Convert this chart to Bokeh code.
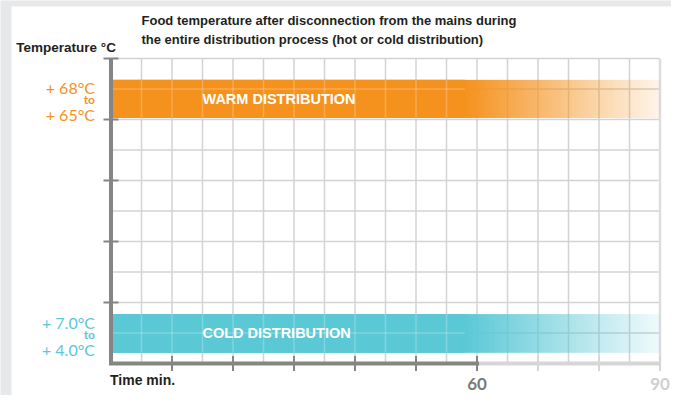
import numpy as np
from bokeh.plotting import figure
from bokeh.models import Range1d, ColumnDataSource
from bokeh.core.properties import value
from bokeh.embed import file_html
from bokeh.resources import INLINE

# ---------------- data ----------------
title_lines = ["Food temperature after disconnection from the mains during",
               "the entire distribution process (hot or cold distribution)"]
y_axis_title = "Temperature °C"
x_axis_title = "Time min."

x_max = 90                                  # minutes shown
x_grid = [5, 10, 15, 20, 25, 30, 35, 40, 45, 50, 55, 60, 65, 70, 75, 80, 85]
y_grid = [1, 2, 3, 4, 5, 6, 7, 8, 9, 10]     # schematic rows
x_ticks_dark = [10, 20, 30, 40, 50, 60]
x_ticks_light = [70, 80, 90]
x_tick_values = [60, 90]
x_tick_labels = ["60", "90"]
y_ticks = [2, 4, 6, 8, 10]
powered_until = 60                            # end of solid axis part

band_names = ["WARM DISTRIBUTION", "COLD DISTRIBUTION"]
band_bottom = [8.05, 0.35]
band_top = [9.3, 1.62]
band_fade_start = [58, 58]
band_label_x = [15, 15]
band_upper = ["+ 68°C", "+ 7.0°C"]
band_lower = ["+ 65°C", "+ 4.0°C"]
band_colors = ["#F5921E", "#5BC8D6"]

# ---------------- style ----------------
GRID = "#D3D3D3"
AXIS = "#858585"
AXIS_LIGHT = "#D6D6D6"
TXT = "#231F20"
PAGE_BG = "#E7E8EA"
SANS = value("Liberation Sans")

W, H = 671, 395
x0_px, x90_px = 110.5, 659.5
y0_px, y10_px = 363, 58          # from top
sx = (x90_px - x0_px) / x_max
sy = (y0_px - y10_px) / 10.0
xs, xe = -x0_px / sx, x_max + (W - x90_px) / sx
ys, ye = -(H - y0_px) / sy, 10 + y10_px / sy

p = figure(width=W, height=H, output_backend="svg", toolbar_location=None,
           x_range=Range1d(xs, xe), y_range=Range1d(ys, ye),
           x_axis_type=None, y_axis_type=None, min_border=0)
p.outline_line_color = None
p.background_fill_color = PAGE_BG
p.border_fill_color = PAGE_BG
p.title.visible = False

# white card behind the chart
p.quad(left=[(11 - x0_px) / sx], right=[xe], bottom=[ys], top=[10 + (y10_px - 6) / sy],
       fill_color="white", line_color=None)

# grid
p.segment(x0=x_grid, y0=[0] * len(x_grid), x1=x_grid, y1=[10] * len(x_grid),
          line_color=GRID, line_width=1.5)
p.segment(x0=[0] * len(y_grid), y0=y_grid, x1=[x_max] * len(y_grid), y1=y_grid,
          line_color=GRID, line_width=1.5)
p.segment(x0=[x_max], y0=[0], x1=[x_max], y1=[10], line_color="#DDDDDD", line_width=2.5)

# bands: solid bar + fading image over the whole bar
for i in range(len(band_names)):
    col = band_colors[i]
    fs = band_fade_start[i]
    p.quad(left=[0], right=[fs], bottom=[band_bottom[i]], top=[band_top[i]],
           fill_color=col, line_color=None)
    n = 900
    xc = (np.arange(n) + 0.5) / n * x_max
    alpha = np.where(xc < fs, 1.0, 1.0 - 0.91 * (xc - fs) / (x_max - fs))
    r, g, b = int(col[1:3], 16), int(col[3:5], 16), int(col[5:7], 16)
    img = np.empty((1, n), dtype=np.uint32)
    view = img.view(dtype=np.uint8).reshape((1, n, 4))
    view[0, :, 0] = r
    view[0, :, 1] = g
    view[0, :, 2] = b
    view[0, :, 3] = np.round(alpha * 255).astype(np.uint8)
    p.image_rgba(image=[img], x=0, y=band_bottom[i], dw=x_max,
                 dh=band_top[i] - band_bottom[i])
    # lighter grid lines through the solid part
    vx = [g_ for g_ in x_grid if g_ < fs]
    p.segment(x0=vx, y0=[band_bottom[i]] * len(vx), x1=vx, y1=[band_top[i]] * len(vx),
              line_color="white", line_alpha=0.22, line_width=1.5)
    hy = [g_ for g_ in y_grid if band_bottom[i] < g_ < band_top[i]]
    p.segment(x0=[0] * len(hy), y0=hy, x1=[fs] * len(hy), y1=hy,
              line_color="white", line_alpha=0.22, line_width=1.5)

# band labels
mid = [(a + b) / 2 for a, b in zip(band_bottom, band_top)]
p.text(x=band_label_x, y=mid, text=band_names, text_color="white",
       text_font=SANS, text_font_style="bold",
       text_font_size="14.5px", text_baseline="middle", text_align="left")

# left temperature labels
src = ColumnDataSource(dict(x=[0, 0], top=band_top, bottom=band_bottom, mid=mid,
                            up=band_upper, lo=band_lower, to=["to", "to"], c=band_colors))
p.text(x="x", y="top", text="up", source=src, text_color="c", x_offset=-16, y_offset=8,
       text_font=value("Lato"), text_font_size="16px", text_baseline="middle",
       text_align="right")
p.text(x="x", y="mid", text="to", source=src, text_color="c", x_offset=-16, y_offset=1,
       text_font=value("Lato"), text_font_style="bold", text_font_size="12px",
       text_baseline="middle", text_align="right")
p.text(x="x", y="bottom", text="lo", source=src, text_color="c", x_offset=-16, y_offset=-3,
       text_font=value("Lato"), text_font_size="16px", text_baseline="middle",
       text_align="right")

# axes
p.segment(x0=[0], y0=[0], x1=[0], y1=[10], line_color=AXIS, line_width=4)
p.segment(x0=[powered_until], y0=[0], x1=[x_max], y1=[0], line_color=AXIS_LIGHT, line_width=4)
p.segment(x0=[0], y0=[0], x1=[powered_until], y1=[0], line_color=AXIS, line_width=4,
          line_cap="square")
p.scatter(x=[0] * len(y_ticks), y=y_ticks, marker="dash", size=15, line_color=AXIS,
          line_width=2)
p.scatter(x=x_ticks_light, y=[0] * len(x_ticks_light), marker="dash", angle=np.pi / 2,
          size=15, line_color=AXIS_LIGHT, line_width=2)
p.scatter(x=x_ticks_dark, y=[0] * len(x_ticks_dark), marker="dash", angle=np.pi / 2,
          size=15, line_color=AXIS, line_width=2)

# x tick labels
p.text(x=x_tick_values, y=[0, 0], text=x_tick_labels, text_color=["#7A7A7A", "#D0D0D0"],
       text_font=value("Lato"), text_font_style="bold", text_font_size="17px",
       text_baseline="middle", text_align="center", y_offset=20)

# axis titles
p.text(x=[0], y=[0], text=[x_axis_title], text_color=TXT, text_font=SANS,
       text_font_style="bold", text_font_size="14px", text_baseline="middle",
       text_align="left", x_offset=-1, y_offset=16)
p.text(x=[0], y=[10], text=[y_axis_title], text_color=TXT, text_font=SANS,
       text_font_style="bold", text_font_size="13.5px", text_baseline="middle",
       text_align="right", x_offset=5, y_offset=-11)

# chart title
p.text(x=[5, 5], y=[10, 10], text=title_lines, text_color=TXT, text_font=SANS,
       text_font_style="bold", text_font_size="13px", text_baseline="middle",
       text_align="left", y_offset=[-38.5, -19.5])

open("out.html", "w").write(file_html(p, INLINE))
